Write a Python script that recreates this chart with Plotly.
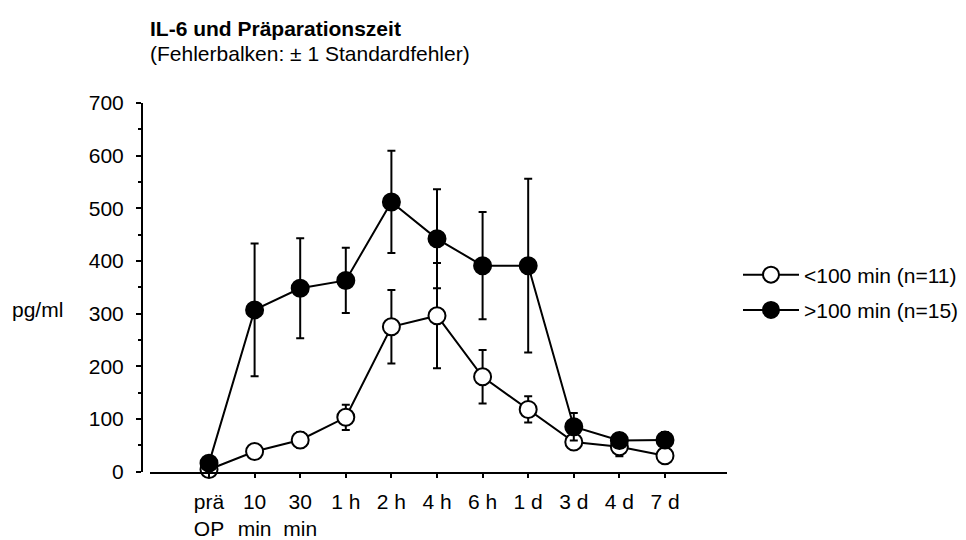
import plotly.graph_objects as go

categories = ["prä<br>OP", "10<br>min", "30<br>min", "1 h", "2 h", "4 h", "6 h", "1 d", "3 d", "4 d", "7 d"]
x_idx = list(range(len(categories)))

short_name = "<100 min (n=11)"
short_vals = [4, 38, 60, 103, 275, 296, 180, 118, 56, 47, 30]
short_se = [3, 8, 15, 24, 70, 100, 51, 25, 10, 18, 6]

long_name = ">100 min (n=15)"
long_vals = [16, 307, 348, 363, 512, 442, 391, 391, 85, 59, 60]
long_se = [8, 126, 95, 62, 97, 94, 102, 165, 26, 14, 15]

W, H = 966, 540
FONT = "Liberation Sans, Arial, sans-serif"
FS = 21

def px_x(p):
    return p / W

def px_y(p):
    return 1 - p / H

fig = go.Figure()

fig.add_trace(go.Scatter(
    x=x_idx, y=short_vals, name=short_name, mode="lines+markers", legendgroup="a",
    line=dict(color="black", width=2),
    marker=dict(symbol="circle", size=17, color="white", line=dict(color="black", width=2)),
    error_y=dict(type="data", array=short_se, visible=True, color="black", thickness=2, width=4),
    cliponaxis=False,
))
fig.add_trace(go.Scatter(
    x=x_idx, y=long_vals, name=long_name, mode="lines+markers", legendgroup="b",
    line=dict(color="black", width=2),
    marker=dict(symbol="circle", size=17, color="black", line=dict(color="black", width=2)),
    error_y=dict(type="data", array=long_se, visible=True, color="black", thickness=2, width=4),
    cliponaxis=False,
))

fig.update_layout(
    width=W, height=H,
    margin=dict(l=0, r=0, t=0, b=0),
    paper_bgcolor="white", plot_bgcolor="white",
    font=dict(family=FONT, size=FS, color="black"),
    showlegend=True,
    legend=dict(
        x=px_x(738), y=px_y(293), xanchor="left", yanchor="middle",
        bgcolor="rgba(0,0,0,0)", borderwidth=0, itemwidth=56,
        font=dict(family=FONT, size=FS, color="black"),
        traceorder="grouped", tracegroupgap=5,
    ),
    xaxis=dict(
        domain=[px_x(150), px_x(727)],
        range=[-1.294, 11.36],
        tickmode="array", tickvals=x_idx, ticktext=categories,
        showline=True, linecolor="black", linewidth=2,
        ticks="outside", ticklen=4, tickwidth=1.5, tickcolor="black",
        showgrid=False, zeroline=False,
        anchor="y",
        ticklabelstandoff=6,
        tickfont=dict(family=FONT, size=FS, color="black"),
    ),
    yaxis=dict(
        domain=[px_y(480), px_y(95)],
        range=[0, 700],
        anchor="free", position=px_x(142),
        tickmode="linear", tick0=0, dtick=100,
        showline=True, linecolor="black", linewidth=2,
        ticks="outside", ticklen=5, tickwidth=1.5, tickcolor="black",
        minor=dict(dtick=50, ticks="outside", ticklen=3, tickwidth=1.5, tickcolor="black", showgrid=False),
        showgrid=False, zeroline=False,
        ticklabelstandoff=8,
        tickfont=dict(family=FONT, size=FS, color="black"),
    ),
    annotations=[
        dict(text="<b>IL-6 und Präparationszeit</b>", x=px_x(149), y=px_y(17),
             xref="paper", yref="paper", xanchor="left", yanchor="middle", showarrow=False,
             borderpad=0, font=dict(family=FONT, size=FS, color="black")),
        dict(text="(Fehlerbalken: ± 1 Standardfehler)", x=px_x(149), y=px_y(43.5),
             xref="paper", yref="paper", xanchor="left", yanchor="middle", showarrow=False,
             borderpad=0, font=dict(family=FONT, size=FS, color="black")),
        dict(text="pg/ml", x=px_x(64), y=px_y(311),
             xref="paper", yref="paper", xanchor="right", yanchor="middle", showarrow=False,
             borderpad=0, font=dict(family=FONT, size=FS, color="black")),
    ],
)

fig.write_html("out.html")
